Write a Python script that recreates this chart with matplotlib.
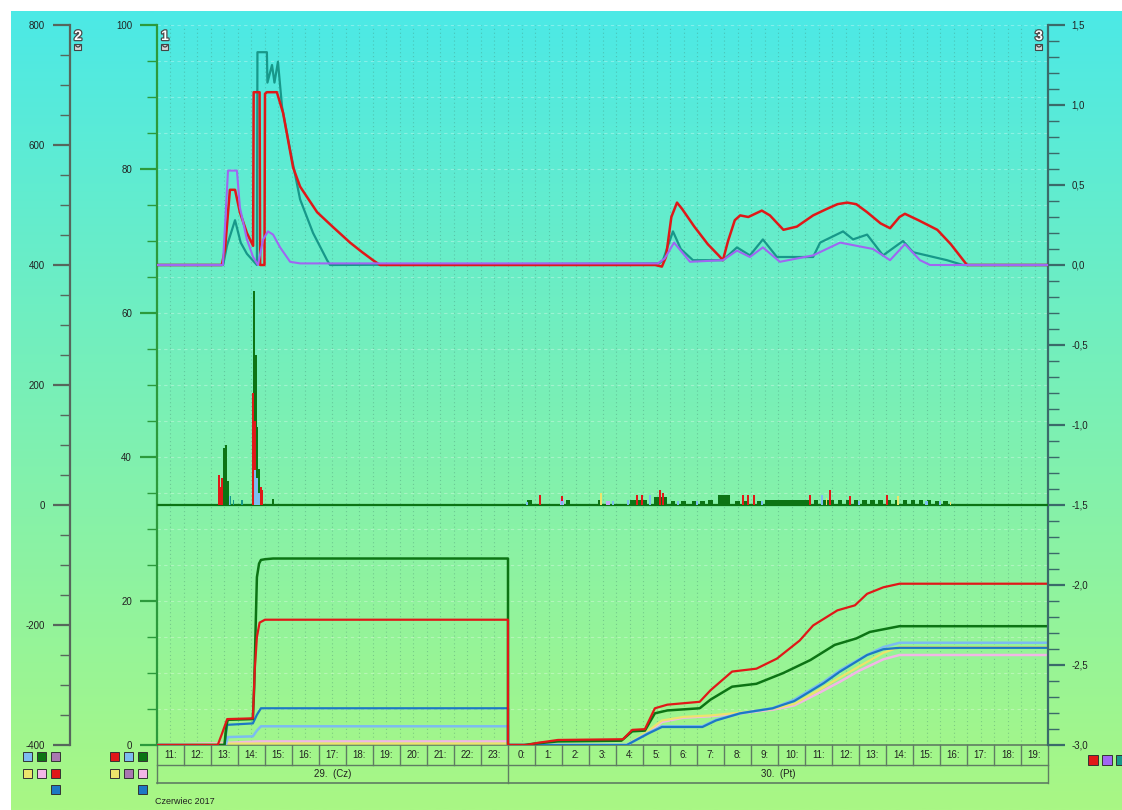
import numpy as np
import matplotlib
matplotlib.use("Agg")
import matplotlib.pyplot as plt
from matplotlib.patches import Rectangle, Arc
from matplotlib.transforms import Affine2D, blended_transform_factory
from matplotlib.ticker import MultipleLocator
import matplotlib.patheffects as pe

plt.rcParams['font.family'] = ['Liberation Sans', 'DejaVu Sans']
plt.rcParams['axes.unicode_minus'] = False

W, H = 1122, 810

# ---------------- data (time in hours from 29.06 00:00) ----------------
hour_labels = [f"{h % 24}:" for h in range(11, 44)]
day_labels = ["29.  (Cz)", "30.  (Pt)"]
day_edges = [11, 24, 44]
month_label = "Czerwiec 2017"

# upper panel, right scale (3)
red_t = [11.0, 13.40, 13.52, 13.70, 13.89, 14.07, 14.33, 14.56, 14.58, 14.80, 14.82, 14.98, 15.00,
         15.07, 15.44, 15.67, 16.04, 16.30, 16.93, 17.50, 18.15, 18.60, 19.00, 19.26,
         29.45, 29.70, 29.85, 30.05, 30.26, 30.45, 30.90, 31.40, 31.80, 31.96, 32.15, 32.40, 32.60,
         32.90, 33.40, 33.70, 34.20, 34.70, 35.30, 35.80, 36.20, 36.56, 36.90, 37.30, 37.80, 38.15,
         38.50, 38.70, 39.20, 39.90, 40.40, 41.00, 44.0]
red_v = [0.0, 0.0, 0.10, 0.47, 0.47, 0.33, 0.20, 0.12, 1.08, 1.08, 0.0, 0.0, 1.07,
         1.08, 1.08, 0.95, 0.61, 0.49, 0.33, 0.24, 0.14, 0.08, 0.03, 0.0,
         0.0, -0.01, 0.05, 0.30, 0.39, 0.35, 0.24, 0.13, 0.06, 0.03, 0.15, 0.28, 0.31,
         0.30, 0.34, 0.31, 0.22, 0.24, 0.31, 0.35, 0.38, 0.39, 0.38, 0.33, 0.26, 0.23,
         0.30, 0.32, 0.28, 0.22, 0.13, 0.0, 0.0]

teal_t = [11.0, 13.45, 13.59, 13.89, 14.10, 14.33, 14.70, 14.72, 15.07, 15.09, 15.26, 15.35,
          15.48, 15.63, 15.93, 16.30, 16.78, 17.30, 17.41,
          29.60, 29.74, 30.11, 30.40, 30.85, 31.96, 32.48, 32.96, 33.44, 33.96, 35.30, 35.56,
          36.41, 36.78, 37.30, 37.89, 38.63, 39.00, 40.26, 40.85, 44.0]
teal_v = [0.0, 0.0, 0.12, 0.28, 0.14, 0.07, 0.0, 1.33, 1.33, 1.14, 1.25, 1.14,
          1.27, 0.99, 0.72, 0.41, 0.20, 0.03, 0.0,
          0.01, 0.03, 0.21, 0.10, 0.03, 0.03, 0.11, 0.06, 0.16, 0.05, 0.05, 0.14,
          0.21, 0.16, 0.19, 0.06, 0.15, 0.08, 0.03, 0.0, 0.0]

purple_t = [11.0, 13.44, 13.63, 13.96, 14.07, 14.33, 14.56, 14.74, 14.93, 15.11, 15.30, 15.56,
            15.93, 16.30, 29.55, 29.80, 30.15, 30.74, 31.96, 32.48, 32.96, 33.44, 34.07, 35.30,
            36.30, 37.52, 38.15, 38.70, 39.26, 39.63, 44.0]
purple_v = [0.0, 0.0, 0.59, 0.59, 0.36, 0.16, 0.05, 0.0, 0.16, 0.21, 0.19, 0.11,
            0.02, 0.01, 0.01, 0.04, 0.14, 0.02, 0.03, 0.09, 0.05, 0.11, 0.02, 0.06,
            0.14, 0.10, 0.03, 0.13, 0.03, 0.0, 0.0]

# middle panel bars, left scale (2)
bar_green_t = [13.48, 13.56, 13.62, 14.60, 14.66, 14.72, 14.78, 15.30,
               24.80, 26.22, 27.40, 28.60, 28.75, 28.90, 29.05, 29.50, 29.65, 29.80, 30.10, 30.50,
               30.90, 31.20, 31.50, 31.85, 32.00, 32.15, 32.50, 32.80, 33.30, 33.60, 33.75, 33.90,
               34.05, 34.20, 34.35, 34.50, 34.65, 34.80, 34.95, 35.10, 35.40, 35.70, 35.85, 36.00,
               36.30, 36.60, 36.90, 37.20, 37.50, 37.80, 38.10, 38.40, 38.70, 39.00, 39.30, 39.60,
               39.90, 40.20]
bar_green_v = [95, 100, 40, 357, 250, 130, 60, 10,
               8, 9, 9, 9, 9, 9, 9, 14, 14, 14, 7, 7,
               7, 7, 8, 17, 17, 17, 7, 7, 7, 9, 9, 9,
               9, 9, 9, 9, 9, 9, 9, 9, 8, 9, 9, 9,
               8, 9, 8, 8, 8, 9, 8, 8, 8, 8, 8, 8,
               7, 7]
bar_red_t = [13.28, 13.36, 13.42, 14.57, 14.63, 14.84, 14.90,
             25.19, 26.00, 28.78, 28.96, 29.63, 29.75, 32.70, 32.90, 33.10, 35.20, 35.93,
             36.67, 38.04]
bar_red_v = [50, 30, 45, 187, 140, 30, 25,
             17, 15, 17, 17, 25, 20, 17, 17, 17, 17, 25,
             15, 17]
bar_lblue_t = [13.70, 14.63, 14.70, 14.76, 24.70, 26.00, 27.90, 28.44, 29.26, 30.30, 31.00,
               33.40, 35.63, 37.00, 39.50, 40.00]
bar_lblue_v = [15, 58, 45, 20, 5, 6, 6, 9, 17, 6, 6,
               6, 17, 6, 6, 6]
bar_teal_t = [13.72, 13.83, 14.15]
bar_teal_v = [15, 8, 8]
bar_yellow_t = [27.45, 35.80, 38.44, 40.40]
bar_yellow_v = [20, 12, 15, 5]
bar_lav_t = [26.00, 27.70, 29.60, 29.70, 29.80]
bar_lav_v = [10, 6, 10, 12, 9]

# lower panel, daily running totals, left inner scale (1)
cum_green_t = [11.0, 13.50, 13.56, 13.62, 14.55, 14.60, 14.66, 14.70, 14.78, 14.85, 15.00, 15.30, 24.0,
               24.0, 24.60, 25.00, 25.85, 28.20, 28.60, 29.07, 29.44, 29.90, 31.10, 31.50, 32.30,
               33.20, 34.20, 35.20, 36.10, 36.90, 37.40, 38.50, 44.0]
cum_green_v = [0, 0, 2.5, 3.5, 3.6, 8.0, 17.4, 23.3, 25.2, 25.7, 25.8, 25.9, 25.9,
               0, 0, 0.2, 0.5, 0.6, 1.9, 2.0, 4.4, 4.8, 5.1, 6.3, 8.1,
               8.5, 10.0, 11.8, 13.9, 14.8, 15.7, 16.5, 16.5]
cum_red_t = [11.0, 13.25, 13.40, 13.60, 14.55, 14.62, 14.70, 14.80, 15.00, 24.0,
             24.0, 24.70, 25.10, 25.85, 28.26, 28.60, 29.07, 29.44, 29.90, 31.10, 31.50, 32.30,
             33.20, 33.96, 34.80, 35.30, 36.20, 36.85, 37.30, 37.90, 38.50, 44.0]
cum_red_v = [0, 0, 1.5, 3.6, 3.7, 10.4, 15.0, 17.0, 17.4, 17.4,
             0, 0, 0.3, 0.7, 0.8, 2.1, 2.2, 5.1, 5.6, 6.0, 7.6, 10.2,
             10.6, 12.0, 14.5, 16.6, 18.7, 19.4, 21.0, 21.9, 22.4, 22.4]
cum_blue_t = [11.0, 13.50, 13.60, 14.55, 14.70, 14.85, 24.0,
              24.0, 28.40, 29.20, 29.70, 31.20, 31.70, 32.60, 33.80, 34.60, 35.70, 36.30, 37.00,
              37.30, 37.90, 38.50, 44.0]
cum_blue_v = [0, 0, 2.8, 3.0, 4.2, 5.1, 5.1,
              0, 0, 1.6, 2.5, 2.5, 3.4, 4.4, 5.1, 6.1, 8.6, 10.2, 11.8,
              12.5, 13.3, 13.5, 13.5]
cum_lblue_t = [11.0, 13.55, 13.62, 14.55, 14.70, 14.85, 24.0,
               24.0, 28.40, 29.20, 29.70, 31.20, 31.70, 32.60, 33.80, 34.60, 35.70, 36.30, 37.00,
               37.50, 37.90, 38.50, 44.0]
cum_lblue_v = [0, 0, 1.1, 1.2, 2.0, 2.6, 2.6,
               0, 0, 1.7, 2.6, 2.6, 3.5, 4.4, 5.1, 6.3, 8.8, 10.4, 11.9,
               12.9, 13.6, 14.2, 14.2]
cum_yellow_t = [11.0, 13.60, 24.0, 24.0, 28.40, 29.20, 29.70, 30.50, 31.50, 32.60, 33.80, 34.60,
                35.50, 36.30, 37.00, 37.90, 38.50, 44.0]
cum_yellow_v = [0, 0.2, 0.2, 0, 0, 2.0, 3.4, 3.9, 4.1, 4.5, 5.0, 5.7,
                7.6, 9.4, 10.9, 12.8, 13.6, 13.6]
cum_pink_t = [11.0, 13.60, 14.80, 24.0, 24.0, 28.40, 29.20, 29.70, 30.50, 31.50, 32.60, 33.80,
              34.60, 35.50, 36.30, 37.00, 37.90, 38.50, 44.0]
cum_pink_v = [0, 0.3, 0.5, 0.5, 0, 0, 1.8, 3.2, 3.8, 4.0, 4.4, 4.9,
              5.5, 7.2, 8.8, 10.3, 11.9, 12.5, 12.5]

# ---------------- colours ----------------
C_RED = '#e01818'
C_TEAL = '#17988a'
C_PURPLE = '#a066f2'
C_DGREEN = '#0c7414'
C_BLUE = '#1c78c4'
C_LBLUE = '#7cbcf0'
C_YELLOW = '#ece46c'
C_PINK = '#f2b6e6'
C_MAUVE = '#a878b0'
C_LAV = '#c4a8f4'
C_FRAME = '#5f7d62'

fig = plt.figure(figsize=(W / 100, H / 100), dpi=100, facecolor='white')
pix = Affine2D().scale(1 / W, -1 / H).translate(0, 1) + fig.transFigure

# background gradient (cyan at top to light green at bottom)
bg = fig.add_axes([11 / W, 0, 1 - 11 / W, (H - 11) / H], zorder=-10)
top = np.array([0x4c, 0xe9, 0xe6]) / 255
bot = np.array([0xa9, 0xf7, 0x84]) / 255
f = np.linspace(0, 1, 256)[:, None]
grad = top[None, :] * (1 - f) + bot[None, :] * f
bg.imshow(grad[:, None, :], aspect='auto', extent=[0, 1, 0, 1], interpolation='bilinear')
bg.set_axis_off()

# ---------------- axes ----------------
x0, x1, yt, yb = 157, 1048, 25, 745
ax = fig.add_axes([x0 / W, (H - yb) / H, (x1 - x0) / W, (yb - yt) / H])
ax.patch.set_alpha(0)
ax.set_xlim(11, 44)
ax.set_ylim(0, 100)
ax3 = ax.twinx()
ax3.set_ylim(-3, 1.5)
ax2 = ax.twinx()
ax2.set_ylim(-400, 800)
for a in (ax, ax2, ax3):
    a.patch.set_alpha(0)
    for s in a.spines.values():
        s.set_visible(False)
    a.tick_params(axis='x', which='both', length=0, labelbottom=False, labeltop=False)

# grid
ax.xaxis.set_major_locator(MultipleLocator(0.5))
ax.grid(axis='x', color='#3f7f6a', alpha=0.35, lw=0.8, ls=(0, (1, 2.5)))
ax.yaxis.set_major_locator(MultipleLocator(20))
ax.yaxis.set_minor_locator(MultipleLocator(5))
ax.grid(axis='y', which='both', color='#ffffff', alpha=0.3, lw=0.8, ls=(0, (3, 3)))
ax.set_axisbelow(True)

tick_font = dict(labelsize=7, labelcolor='#222222')

# axis 1 (inner left)
ax.spines['left'].set_visible(True)
ax.spines['left'].set_color('#2c9a3c')
ax.spines['left'].set_linewidth(1.6)
ax.tick_params(axis='y', which='major', length=12, width=1.6, color='#2c9a3c', pad=6, **tick_font)
ax.tick_params(axis='y', which='minor', length=7, width=1.0, color='#2c9a3c')
ax.set_yticks([0, 20, 40, 60, 80, 100])

# axis 2 (outer left)
ax2.spines['left'].set_visible(True)
ax2.spines['left'].set_position(('axes', (70 - x0) / (x1 - x0)))
ax2.spines['left'].set_color('#56665c')
ax2.spines['left'].set_linewidth(1.6)
ax2.yaxis.tick_left()
ax2.set_yticks([-400, -200, 0, 200, 400, 600, 800])
ax2.yaxis.set_minor_locator(MultipleLocator(50))
ax2.tick_params(axis='y', which='major', length=12, width=1.6, color='#56665c', pad=6, **tick_font)
ax2.tick_params(axis='y', which='minor', length=7, width=1.0, color='#56665c')

# axis 3 (right)
ax3.spines['right'].set_visible(True)
ax3.spines['right'].set_color('#3b6a6a')
ax3.spines['right'].set_linewidth(1.6)
ax3.set_yticks(np.arange(-3.0, 1.51, 0.5))
ax3.set_yticklabels([f"{v:.1f}".replace('.', ',') for v in np.arange(-3.0, 1.51, 0.5)])
ax3.yaxis.set_minor_locator(MultipleLocator(0.1))
ax3.tick_params(axis='y', which='major', length=12, width=1.6, color='#3b6a6a', pad=5, **tick_font)
ax3.tick_params(axis='y', which='minor', length=8, width=1.0, color='#3b6a6a')

# ---------------- upper panel lines ----------------
ax3.plot(teal_t, teal_v, color=C_TEAL, lw=1.6, zorder=3)
ax3.plot(red_t, red_v, color=C_RED, lw=1.8, zorder=4)
ax3.plot(purple_t, purple_v, color=C_PURPLE, lw=1.5, zorder=5)

# ---------------- middle panel bars ----------------
ax2.axhline(0, color=C_DGREEN, lw=1.6, zorder=2)
ax2.bar(bar_lav_t, bar_lav_v, width=0.12, color=C_LAV, lw=0, zorder=3)
ax2.bar(bar_green_t[:8], bar_green_v[:8], width=0.07, color=C_DGREEN, lw=0, zorder=4)
ax2.bar(bar_green_t[8:], bar_green_v[8:], width=0.16, color=C_DGREEN, lw=0, zorder=4)
ax2.bar(bar_red_t, bar_red_v, width=0.07, color=C_RED, lw=0, zorder=5)
ax2.bar(bar_lblue_t, bar_lblue_v, width=0.08, color=C_LBLUE, lw=0, zorder=6)
ax2.bar(bar_teal_t, bar_teal_v, width=0.06, color=C_TEAL, lw=0, zorder=6)
ax2.bar(bar_yellow_t, bar_yellow_v, width=0.05, color=C_YELLOW, lw=0, zorder=6)

# ---------------- lower panel running totals ----------------
ax.plot(cum_pink_t, cum_pink_v, color=C_PINK, lw=1.8, zorder=3)
ax.plot(cum_yellow_t, cum_yellow_v, color=C_YELLOW, lw=1.6, zorder=3)
ax.plot(cum_lblue_t, cum_lblue_v, color=C_LBLUE, lw=1.8, zorder=4)
ax.plot(cum_blue_t, cum_blue_v, color=C_BLUE, lw=1.6, zorder=4)
ax.plot(cum_green_t, cum_green_v, color=C_DGREEN, lw=1.8, zorder=5)
ax.plot(cum_red_t, cum_red_v, color=C_RED, lw=1.6, zorder=6)

# ---------------- time table under the plot ----------------
tb = blended_transform_factory(ax.transData, pix)
row1, row2, row3 = 745, 765, 783
ax.plot([11, 44], [row1, row1], transform=tb, color=C_FRAME, lw=1.2, clip_on=False)
ax.plot([11, 44], [row2, row2], transform=tb, color=C_FRAME, lw=1.0, clip_on=False)
ax.plot([11, 44], [row3, row3], transform=tb, color=C_FRAME, lw=1.2, clip_on=False)
for h in range(11, 45):
    bottom = row3 if h in day_edges else row2
    ax.plot([h, h], [row1, bottom], transform=tb, color=C_FRAME, lw=1.0, clip_on=False)
for i, lab in enumerate(hour_labels):
    ax.text(11 + i + 0.5, (row1 + row2) / 2, lab, transform=tb, ha='center', va='center',
            fontsize=7, color='#222222', clip_on=False)
for i, lab in enumerate(day_labels):
    ax.text((day_edges[i] + day_edges[i + 1]) / 2, (row2 + row3) / 2, lab, transform=tb,
            ha='center', va='center', fontsize=7, color='#222222', clip_on=False)
fig.text(155 / W, 1 - 801 / H, month_label, fontsize=6.5, color='#222222', va='center')


# ---------------- axis number badges with lock symbols ----------------
def badge(px, num):
    fig.text(px / W, 1 - 36 / H, num, fontsize=10, fontweight='bold', color='white',
             ha='center', va='center',
             path_effects=[pe.withStroke(linewidth=1.8, foreground='#4a4a4a')])
    fig.patches.append(Rectangle((px - 3.5, 44), 7, 6, transform=pix, facecolor='#d8d8d8',
                                 edgecolor='#444444', lw=0.8))
    fig.patches.append(Arc((px, 44), 5, 6, theta1=0, theta2=180, transform=pix,
                           color='#444444', lw=0.9))


badge(78, '2')
badge(165, '1')
badge(1039, '3')


# ---------------- colour key squares ----------------
def squares(x_left, grid_colors, y_top=752, size=9, pitch=14, rpitch=16.5):
    for r, row in enumerate(grid_colors):
        for c, col in enumerate(row):
            if col is None:
                continue
            fig.patches.append(Rectangle((x_left + c * pitch, y_top + r * rpitch + size), size, -size,
                                         transform=pix, facecolor=col, edgecolor='#333333', lw=0.7))


squares(23, [[C_LBLUE, C_DGREEN, C_MAUVE], [C_YELLOW, C_PINK, C_RED], [None, None, C_BLUE]])
squares(110, [[C_RED, C_LBLUE, C_DGREEN], [C_YELLOW, C_MAUVE, C_PINK], [None, None, C_BLUE]])
squares(1088, [[C_RED, C_PURPLE, C_TEAL]], y_top=755, size=10, pitch=14)

fig.savefig('out.png', dpi=100, facecolor='white')
